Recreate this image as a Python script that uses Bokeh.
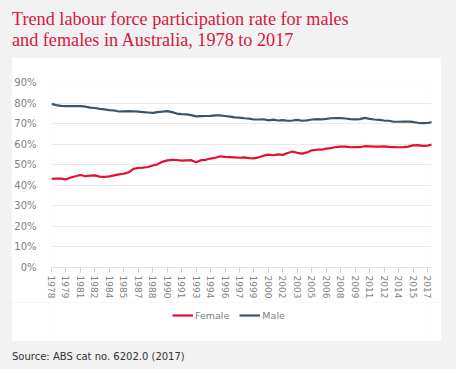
import pandas as pd
from bokeh.plotting import figure
from bokeh.models import Div, Legend, LegendItem, FixedTicker
from bokeh.layouts import column
from bokeh.embed import file_html
from bokeh.resources import INLINE

# Semi-annual readings (Feb / Aug) from Feb 1978 to Aug 2017
periods = pd.date_range("1978-02-01", "2017-08-01", freq="6MS")

male = [79.6, 79.0, 78.6, 78.5, 78.5, 78.5, 78.5, 78.3, 77.8, 77.6,
        77.2, 76.9, 76.6, 76.4, 75.9, 76.0, 76.1, 76.0, 75.8, 75.6,
        75.4, 75.2, 75.6, 75.8, 76.1, 75.6, 74.9, 74.6, 74.5, 74.1,
        73.5, 73.6, 73.7, 73.8, 74.0, 74.0, 73.7, 73.4, 73.0, 72.9,
        72.6, 72.4, 72.0, 72.0, 72.1, 71.6, 71.9, 71.5, 71.7, 71.4,
        71.5, 71.8, 71.4, 71.6, 72.0, 72.2, 72.1, 72.3, 72.6, 72.7,
        72.7, 72.5, 72.2, 72.1, 72.2, 72.8, 72.3, 72.0, 71.8, 71.5,
        71.4, 70.9, 70.9, 71.0, 71.0, 70.8, 70.4, 70.2, 70.3, 70.8]

female = [43.1, 43.3, 43.2, 42.9, 43.8, 44.4, 45.0, 44.4, 44.7, 44.8,
          44.2, 44.1, 44.3, 44.8, 45.3, 45.6, 46.3, 48.0, 48.4, 48.6,
          48.9, 49.6, 50.2, 51.4, 52.1, 52.4, 52.3, 52.0, 52.1, 52.2,
          51.2, 52.2, 52.4, 53.0, 53.4, 54.1, 53.8, 53.7, 53.6, 53.4,
          53.6, 53.2, 53.1, 53.6, 54.4, 54.9, 54.6, 55.0, 54.8, 55.7,
          56.4, 55.8, 55.4, 56.0, 57.0, 57.3, 57.3, 57.8, 58.1, 58.6,
          58.8, 58.8, 58.5, 58.6, 58.6, 59.0, 58.9, 58.8, 58.8, 58.9,
          58.7, 58.6, 58.5, 58.6, 58.8, 59.4, 59.5, 59.2, 59.3, 59.8]

tick_labels = ["1978", "1979", "1981", "1982", "1984", "1985", "1987", "1988",
               "1990", "1991", "1993", "1994", "1996", "1997", "1999", "2000",
               "2002", "2003", "2005", "2006", "2008", "2009", "2011", "2012",
               "2014", "2015", "2017"]
y_ticks = [0, 10, 20, 30, 40, 50, 60, 70, 80, 90]
series_names = ["Female", "Male"]

start = periods[0]
x = [(d.year - start.year) * 12 + (d.month - start.month) for d in periods]
x_end = x[-1] - 1
tick_pos = [i * 18 for i in range(len(tick_labels))]

FONT = "DejaVu Sans"
RED = "#e3102f"
NAVY = "#3b5467"
GREY_TXT = "#808080"
LW = 2.2

p = figure(width=430, height=245, output_backend="svg", toolbar_location=None,
           x_range=(0, x_end), y_range=(0, 90),
           min_border_left=37, min_border_right=10, min_border_top=25, min_border_bottom=35,
           margin=(0, 15, 0, 11))
p.background_fill_color = "white"
p.border_fill_color = "white"
p.outline_line_color = None

p.ygrid.grid_line_color = "#e8e8e8"
p.ygrid.grid_line_width = 1
p.ygrid.ticker = FixedTicker(ticks=y_ticks)
p.xgrid.grid_line_color = None

p.yaxis.ticker = FixedTicker(ticks=y_ticks)
p.yaxis.major_label_overrides = {v: f"{v}%" for v in y_ticks}
p.yaxis.axis_line_color = None
p.yaxis.major_tick_line_color = None
p.yaxis.minor_tick_line_color = None
p.yaxis.major_label_text_font = FONT
p.yaxis.major_label_text_font_size = "10px"
p.yaxis.major_label_text_color = GREY_TXT
p.yaxis.major_label_standoff = 9

p.xaxis.ticker = FixedTicker(ticks=tick_pos)
p.xaxis.major_label_overrides = {t: l for t, l in zip(tick_pos, tick_labels)}
p.xaxis.major_label_orientation = "vertical"
p.xaxis.axis_line_color = "#e3e3e3"
p.xaxis.major_tick_line_color = "#d0d0d0"
p.xaxis.major_tick_in = 0
p.xaxis.major_tick_out = 5
p.xaxis.minor_tick_line_color = None
p.xaxis.major_label_text_font = FONT
p.xaxis.major_label_text_font_size = "9px"
p.xaxis.major_label_text_color = GREY_TXT
p.xaxis.major_label_standoff = 3

p.line(x, female, line_color=RED, line_width=LW)
p.line(x, male, line_color=NAVY, line_width=LW)

# Legend strip below the axis (same white panel); its y range keeps the
# series themselves out of view so that only the legend shows.
lg = figure(width=430, height=39, output_backend="svg", toolbar_location=None,
            x_range=(0, x_end), y_range=(0, 1), x_axis_type=None, y_axis_type=None,
            min_border=0, margin=(0, 15, 0, 11))
lg.background_fill_color = "white"
lg.border_fill_color = "white"
lg.outline_line_color = None
lg.xgrid.grid_line_color = None
lg.ygrid.grid_line_color = None
kf = lg.line(x, female, line_color=RED, line_width=LW)
km = lg.line(x, male, line_color=NAVY, line_width=LW)

legend = Legend(items=[LegendItem(label=series_names[0], renderers=[kf]),
                       LegendItem(label=series_names[1], renderers=[km])],
                orientation="horizontal", location=(121, 20))
legend.background_fill_alpha = 0
legend.border_line_color = None
legend.label_text_font = FONT
legend.label_text_font_size = "9.5px"
legend.label_text_color = GREY_TXT
legend.glyph_width = 21
legend.glyph_height = 12
legend.label_height = 12
legend.label_standoff = 2
legend.spacing = 10
legend.padding = 0
legend.margin = 0
lg.add_layout(legend, "center")

title = Div(text=("<div style=\"font-family:'Liberation Serif';font-size:18.2px;color:#d6173b;"
                  "line-height:21px;padding:9px 0 0 12px;\">"
                  "Trend labour force participation rate for males<br>"
                  "and females in Australia, 1978 to 2017</div>"),
            width=456, height=57, margin=(0, 0, 0, 0))
source = Div(text=("<div style=\"font-family:'DejaVu Sans';font-size:10px;color:#333333;"
                   "padding:9px 0 0 12px;\">Source: ABS cat no. 6202.0 (2017)</div>"),
             width=456, height=28, margin=(0, 0, 0, 0))

layout = column(title, p, lg, source, width=456, height=369,
                styles={"background-color": "#f2f2f2"}, spacing=0)

open("out.html", "w").write(file_html(layout, INLINE))
